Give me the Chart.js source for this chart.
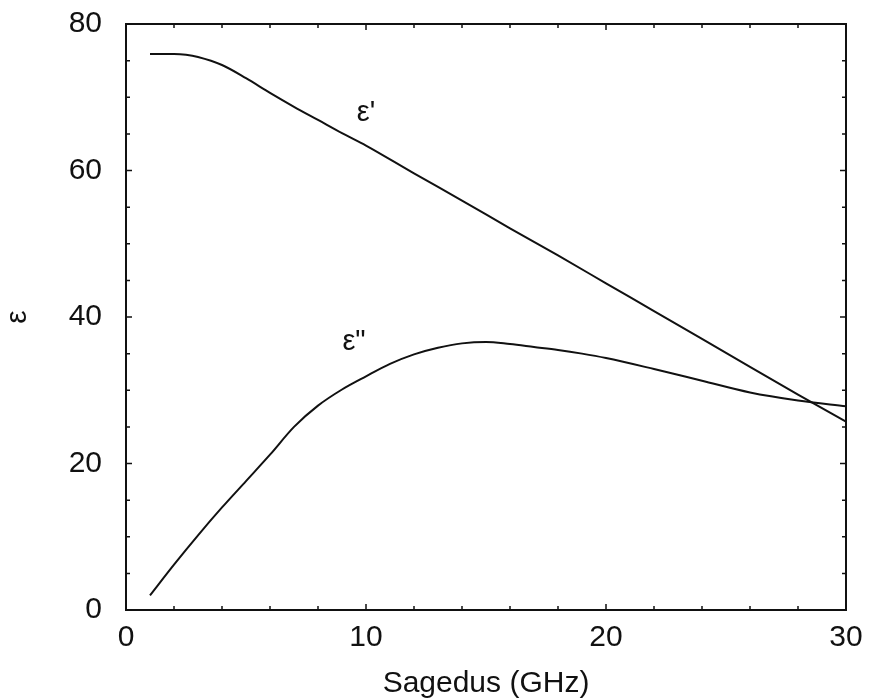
<!DOCTYPE html>
<html>
<head>
<meta charset="utf-8">
<script src="https://cdn.jsdelivr.net/npm/chart.js@4/dist/chart.umd.min.js"></script>
<style>
  html, body { margin: 0; padding: 0; background: #fff; }
  #wrap { width: 870px; height: 699px; }
</style>
</head>
<body>
<div id="wrap"><canvas id="c" width="870" height="699"></canvas></div>
<script>
// Frequencies (GHz) and values
const freqPrime = [1, 2, 2.5, 3, 4, 5, 6, 7, 8, 9, 10, 12, 14, 16, 18, 20, 22, 24, 26, 28, 30];
const epsPrime  = [75.9, 75.9, 75.8, 75.5, 74.4, 72.6, 70.6, 68.7, 66.9, 65.1, 63.4, 59.6, 55.9, 52.1, 48.4, 44.6, 40.8, 37.0, 33.2, 29.4, 25.7];

const freqDouble = [1, 2, 3, 4, 5, 6, 7, 8, 9, 10, 11, 12, 13, 14, 15, 16, 17, 18, 19, 20, 22, 24, 26, 28, 30];
const epsDouble  = [2.0, 6.2, 10.2, 14.0, 17.6, 21.2, 25.0, 27.9, 30.1, 31.9, 33.6, 34.9, 35.8, 36.4, 36.6, 36.3, 35.9, 35.5, 35.0, 34.4, 32.9, 31.3, 29.7, 28.6, 27.8];

const xTicks = [0, 10, 20, 30];
const yTicks = [0, 20, 40, 60, 80];
const xMinor = [0, 2, 4, 6, 8, 10, 12, 14, 16, 18, 20, 22, 24, 26, 28, 30];
const yMinor = [0, 5, 10, 15, 20, 25, 30, 35, 40, 45, 50, 55, 60, 65, 70, 75, 80];

const curveLabels = [
  { text: "\u03b5'", x: 10.0, y: 67.8 },
  { text: '\u03b5"', x: 9.5, y: 36.6 }
];

const FONT = "'Liberation Sans', Arial, sans-serif";

const framePlugin = {
  id: 'frame',
  afterDatasetsDraw(chart) {
    const { ctx, chartArea: a, scales: { x, y } } = chart;
    ctx.save();
    ctx.strokeStyle = '#111';
    ctx.lineWidth = 2;
    ctx.strokeRect(a.left, a.top, a.right - a.left, a.bottom - a.top);
    ctx.lineWidth = 1.5;
    ctx.beginPath();
    xMinor.forEach(v => {
      const px = x.getPixelForValue(v);
      const len = xTicks.includes(v) ? 6 : 4;
      ctx.moveTo(px, a.bottom); ctx.lineTo(px, a.bottom - len);
      ctx.moveTo(px, a.top); ctx.lineTo(px, a.top + len);
    });
    yMinor.forEach(v => {
      const py = y.getPixelForValue(v);
      const len = yTicks.includes(v) ? 6 : 4;
      ctx.moveTo(a.left, py); ctx.lineTo(a.left + len, py);
      ctx.moveTo(a.right, py); ctx.lineTo(a.right - len, py);
    });
    ctx.stroke();
    ctx.fillStyle = '#111';
    ctx.font = '29px ' + FONT;
    ctx.textAlign = 'center';
    ctx.textBaseline = 'middle';
    curveLabels.forEach(l => {
      ctx.fillText(l.text, x.getPixelForValue(l.x), y.getPixelForValue(l.y));
    });
    ctx.restore();
  }
};

new Chart(document.getElementById('c'), {
  type: 'line',
  data: {
    datasets: [
      {
        label: "\u03b5'",
        data: freqPrime.map((f, i) => ({ x: f, y: epsPrime[i] })),
        borderColor: '#111', borderWidth: 2, pointRadius: 0,
        cubicInterpolationMode: 'monotone', fill: false
      },
      {
        label: '\u03b5"',
        data: freqDouble.map((f, i) => ({ x: f, y: epsDouble[i] })),
        borderColor: '#111', borderWidth: 2, pointRadius: 0,
        cubicInterpolationMode: 'monotone', fill: false
      }
    ]
  },
  options: {
    responsive: false,
    animation: false,
    layout: { padding: { left: 0, top: 24, right: 24, bottom: 0 } },
    plugins: { legend: { display: false }, tooltip: { enabled: false } },
    scales: {
      x: {
        type: 'linear', min: 0, max: 30,
        afterBuildTicks(s) { s.ticks = xTicks.map(v => ({ value: v })); },
        afterFit(s) { s.height = 89; s.paddingLeft = 0; s.paddingRight = 0; s.paddingTop = 0; s.paddingBottom = 0; },
        grid: { display: false, drawTicks: false },
        border: { display: false },
        ticks: { color: '#111', padding: 10, font: { family: FONT, size: 30 }, maxRotation: 0 },
        title: { display: true, text: 'Sagedus (GHz)', color: '#111', font: { family: FONT, size: 30, lineHeight: 1.0 }, padding: { top: 0, bottom: 0 } }
      },
      y: {
        type: 'linear', min: 0, max: 80,
        afterBuildTicks(s) { s.ticks = yTicks.map(v => ({ value: v })); },
        afterFit(s) { s.width = 126; s.paddingTop = 0; s.paddingBottom = 0; s.paddingLeft = 0; s.paddingRight = 0; },
        grid: { display: false, drawTicks: false },
        border: { display: false },
        ticks: { color: '#111', padding: 24, font: { family: FONT, size: 30 } },
        title: { display: true, text: '\u03b5', color: '#111', font: { family: FONT, size: 30 }, padding: { top: 0, bottom: 2 } }
      }
    }
  },
  plugins: [framePlugin]
});
</script>
</body>
</html>
